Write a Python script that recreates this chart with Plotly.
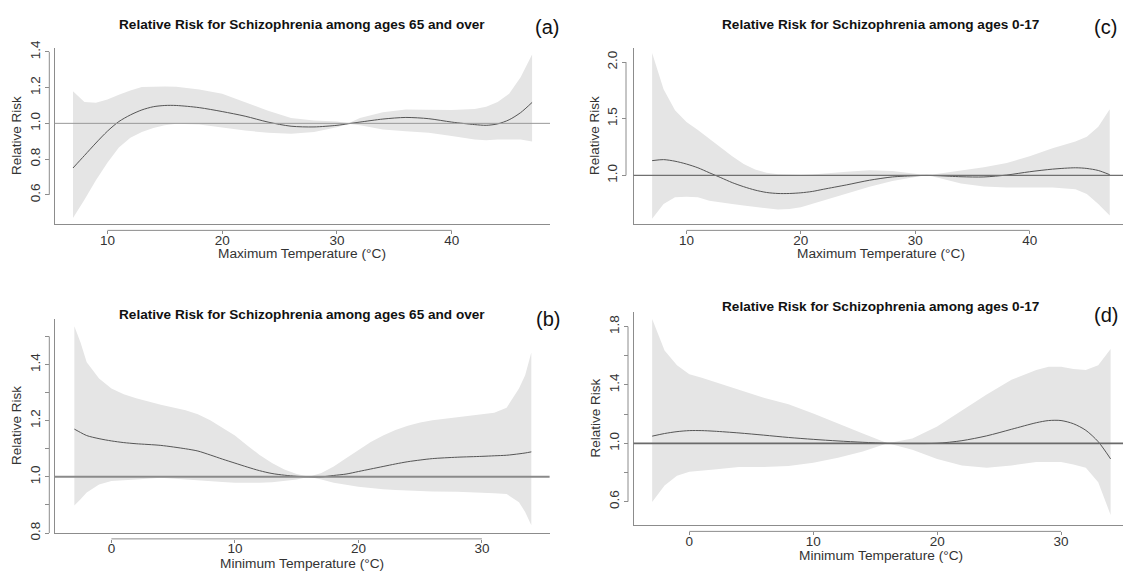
import plotly.graph_objects as go

W, H = 1123, 579
REF = 1.0

# ---------------- data ----------------
# (a) Max temperature, ages 65+
a_x = [7, 8, 9, 10, 11, 12, 13, 14, 15, 16, 18, 20, 22, 24, 26, 28, 30, 31, 32, 34, 36, 38, 40, 42, 43, 44, 45, 46, 47]
a_est = [0.75, 0.82, 0.89, 0.956, 1.01, 1.047, 1.075, 1.093, 1.10, 1.10, 1.088, 1.066, 1.04, 1.007, 0.984, 0.98, 0.989, 0.998, 1.007, 1.024, 1.033, 1.026, 1.007, 0.993, 0.989, 0.997, 1.02, 1.06, 1.117]
a_hi = [1.18, 1.12, 1.115, 1.133, 1.16, 1.184, 1.203, 1.206, 1.206, 1.205, 1.19, 1.166, 1.12, 1.07, 1.03, 1.016, 1.01, 1.0, 1.03, 1.062, 1.078, 1.077, 1.075, 1.08, 1.093, 1.12, 1.166, 1.258, 1.385]
a_lo = [0.47, 0.573, 0.682, 0.78, 0.865, 0.92, 0.951, 0.974, 0.99, 0.998, 0.993, 0.978, 0.96, 0.947, 0.942, 0.951, 0.978, 0.998, 0.989, 0.965, 0.956, 0.947, 0.929, 0.91, 0.905, 0.91, 0.91, 0.909, 0.898]

# (b) Min temperature, ages 65+
b_x = [-3, -2.5, -2, -1, 0, 1, 2, 4, 6, 7, 8, 9, 10, 11, 12, 13, 14, 15, 16, 17, 18, 19, 20, 21, 22, 23, 24, 25, 26, 28, 30, 31, 32, 33, 33.5, 34]
b_est = [1.17, 1.158, 1.147, 1.136, 1.128, 1.122, 1.118, 1.112, 1.10, 1.092, 1.078, 1.063, 1.049, 1.035, 1.022, 1.012, 1.006, 1.002, 1.0, 1.0, 1.005, 1.01, 1.019, 1.028, 1.037, 1.046, 1.054, 1.06, 1.065, 1.07, 1.073, 1.075, 1.077, 1.082, 1.085, 1.089]
b_hi = [1.536, 1.478, 1.408, 1.35, 1.315, 1.294, 1.28, 1.257, 1.237, 1.223, 1.202, 1.176, 1.147, 1.112, 1.078, 1.049, 1.026, 1.01, 1.0, 1.014, 1.037, 1.066, 1.095, 1.124, 1.147, 1.167, 1.182, 1.194, 1.202, 1.213, 1.223, 1.228, 1.246, 1.315, 1.362, 1.443]
b_lo = [0.898, 0.92, 0.944, 0.973, 0.985, 0.988, 0.991, 0.997, 0.993, 0.989, 0.985, 0.982, 0.979, 0.979, 0.979, 0.981, 0.985, 0.991, 1.0, 0.991, 0.979, 0.972, 0.965, 0.96, 0.956, 0.953, 0.95, 0.949, 0.948, 0.947, 0.944, 0.942, 0.939, 0.91, 0.875, 0.828]

# (c) Max temperature, ages 0-17
c_x = [7, 8, 9, 10, 11, 12, 13, 14, 15, 16, 17, 18, 19, 20, 21, 22, 24, 26, 28, 30, 31, 32, 34, 36, 38, 40, 42, 44, 45, 46, 47]
c_est = [1.13, 1.139, 1.125, 1.10, 1.067, 1.023, 0.98, 0.936, 0.90, 0.87, 0.849, 0.84, 0.84, 0.846, 0.858, 0.878, 0.916, 0.957, 0.986, 0.997, 1.0, 0.997, 0.988, 0.986, 1.003, 1.032, 1.055, 1.067, 1.061, 1.043, 1.006]
c_hi = [2.08, 1.76, 1.574, 1.472, 1.40, 1.327, 1.246, 1.168, 1.101, 1.052, 1.023, 1.009, 1.005, 1.003, 1.008, 1.014, 1.032, 1.046, 1.038, 1.014, 1.0, 1.014, 1.043, 1.072, 1.11, 1.168, 1.24, 1.30, 1.342, 1.43, 1.583]
c_lo = [0.617, 0.748, 0.806, 0.812, 0.806, 0.777, 0.76, 0.748, 0.735, 0.725, 0.71, 0.699, 0.703, 0.719, 0.745, 0.777, 0.84, 0.90, 0.951, 0.986, 1.0, 0.98, 0.928, 0.901, 0.893, 0.893, 0.893, 0.878, 0.835, 0.748, 0.646]

# (d) Min temperature, ages 0-17
d_x = [-3, -2, -1, 0, 1, 2, 4, 6, 8, 10, 12, 14, 16, 18, 20, 22, 24, 26, 28, 29, 30, 31, 32, 33, 34]
d_est = [1.049, 1.067, 1.08, 1.087, 1.087, 1.083, 1.071, 1.056, 1.04, 1.027, 1.016, 1.007, 1.0, 0.998, 1.0, 1.018, 1.051, 1.096, 1.141, 1.156, 1.156, 1.134, 1.089, 1.011, 0.893]
d_hi = [1.853, 1.636, 1.536, 1.473, 1.45, 1.424, 1.368, 1.313, 1.268, 1.205, 1.134, 1.067, 1.0, 1.033, 1.116, 1.223, 1.335, 1.435, 1.502, 1.525, 1.525, 1.509, 1.502, 1.536, 1.647]
d_lo = [0.598, 0.71, 0.777, 0.804, 0.813, 0.821, 0.837, 0.837, 0.844, 0.866, 0.90, 0.944, 1.0, 0.955, 0.893, 0.848, 0.833, 0.848, 0.871, 0.872, 0.871, 0.855, 0.833, 0.732, 0.509]

title_old = "Relative Risk for Schizophrenia among ages 65 and over"
title_young = "Relative Risk for Schizophrenia among ages 0-17"
xlab_max = "Maximum Temperature (°C)"
xlab_min = "Minimum Temperature (°C)"
ylab = "Relative Risk"

xt_max = [10, 20, 30, 40]
xt_min = [0, 10, 20, 30]
yt_a = [0.6, 0.8, 1.0, 1.2, 1.4]
yl_a = ["0.6", "0.8", "1.0", "1.2", "1.4"]
yt_b = [0.8, 0.9, 1.0, 1.1, 1.2, 1.3, 1.4, 1.5]
yl_b = ["0.8", "", "1.0", "", "1.2", "", "1.4", ""]
yt_c = [1.0, 1.5, 2.0]
yl_c = ["1.0", "1.5", "2.0"]
yt_d = [0.6, 0.8, 1.0, 1.2, 1.4, 1.6, 1.8]
yl_d = ["0.6", "", "1.0", "", "1.4", "", "1.8"]

# ---------------- layout geometry (page pixels) ----------------
panels = [
    dict(key="a", x=a_x, est=a_est, hi=a_hi, lo=a_lo, title=title_old, xlab=xlab_max,
         xt=xt_max, yt=yt_a, yl=yl_a, xr=[5.4, 48.56], yr=[0.437, 1.422],
         box=(54.6, 550, 41.0, 221.7), yax_px=49.3, xax_py=228.3,
         title_py=16.7, lab_px=547, lab_py=19, xlab_py=252, ylab_px=17, tcx=302.3,
         refc="#999999", refw=1.0),
    dict(key="b", x=b_x, est=b_est, hi=b_hi, lo=b_lo, title=title_old, xlab=xlab_min,
         xt=xt_min, yt=yt_b, yl=yl_b, xr=[-4.6, 35.48], yr=[0.80, 1.563],
         box=(54.6, 549.6, 319, 539), yax_px=49.3, xax_py=545,
         title_py=315, lab_px=548, lab_py=319, xlab_py=570, ylab_px=17, tcx=302.3,
         refc="#8a8a8a", refw=2.0),
    dict(key="c", x=c_x, est=c_est, hi=c_hi, lo=c_lo, title=title_young, xlab=xlab_max,
         xt=xt_max, yt=yt_c, yl=yl_c, xr=[5.38, 48.16], yr=[0.571, 2.125],
         box=(633.6, 1123, 41.0, 221.7), yax_px=626, xax_py=228.3,
         title_py=16.7, lab_px=1105, lab_py=19, xlab_py=252, ylab_px=595, tcx=880.6,
         refc="#707070", refw=1.3),
    dict(key="d", x=d_x, est=d_est, hi=d_hi, lo=d_lo, title=title_young, xlab=xlab_min,
         xt=xt_min, yt=yt_d, yl=yl_d, xr=[-4.5, 35.0], yr=[0.438, 1.903],
         box=(633.6, 1123, 311.7, 531), yax_px=628, xax_py=537.3,
         title_py=306, lab_px=1106, lab_py=315, xlab_py=561.7, ylab_px=595, tcx=880.6,
         refc="#6a6a6a", refw=1.8),
]

FONT = "Liberation Sans, Arial, sans-serif"
BAND = "#e5e5e5"
LINE = "#555555"
AXC = "#8c8c8c"
TXT = "#333333"
FS = 13.5

fig = go.Figure()
layout = dict(width=W, height=H, margin=dict(l=0, r=0, t=0, b=0),
              paper_bgcolor="white", plot_bgcolor="white", showlegend=False,
              font=dict(family=FONT, size=FS, color=TXT))
shapes, annotations = [], []


def px2x(p):
    return p / W


def py2y(p):
    return 1 - p / H


for i, p in enumerate(panels):
    n = i + 1
    tn = i + 5
    xa = "x" if n == 1 else f"x{n}"
    ya = "y" if n == 1 else f"y{n}"
    xk = "xaxis" if n == 1 else f"xaxis{n}"
    yk = "yaxis" if n == 1 else f"yaxis{n}"
    l, r, t, b = p["box"]
    xdom = [px2x(l), min(1.0, px2x(r))]
    ydom = [py2y(b), py2y(t)]

    # confidence band
    fig.add_trace(go.Scatter(x=p["x"] + p["x"][::-1], y=p["hi"] + p["lo"][::-1],
                             fill="toself", fillcolor=BAND, line=dict(width=0),
                             mode="lines", hoverinfo="skip", xaxis=xa, yaxis=ya))
    # estimate
    fig.add_trace(go.Scatter(x=p["x"], y=p["est"], mode="lines",
                             line=dict(color=LINE, width=1, shape="spline", smoothing=0.8),
                             xaxis=xa, yaxis=ya))
    # invisible trace carrying the R-style offset tick axes
    fig.add_trace(go.Scatter(x=p["x"], y=p["est"], mode="lines", opacity=0,
                             line=dict(width=0), hoverinfo="skip",
                             xaxis=f"x{tn}", yaxis=f"y{tn}"))

    layout[xk] = dict(domain=xdom, range=p["xr"], anchor=ya, showline=True, linecolor=AXC,
                      linewidth=1.3, ticks="", showticklabels=False, showgrid=False, zeroline=False)
    layout[yk] = dict(domain=ydom, range=p["yr"], anchor=xa, showline=True, linecolor=AXC,
                      linewidth=1.3, ticks="", showticklabels=False, showgrid=False, zeroline=False)
    layout[f"xaxis{tn}"] = dict(overlaying=xa, anchor="free", position=py2y(p["xax_py"]),
                               range=p["xr"], side="bottom", showline=False, ticks="outside",
                               ticklen=3, tickcolor=AXC, tickwidth=1, tickvals=p["xt"],
                               ticktext=[str(v) for v in p["xt"]], showgrid=False, zeroline=False,
                               ticklabelstandoff=-6, tickfont=dict(size=FS, color=TXT))
    layout[f"yaxis{tn}"] = dict(overlaying=ya, anchor="free", position=px2x(p["yax_px"]),
                               range=p["yr"], side="left", showline=False, ticks="outside",
                               ticklen=4, tickcolor=AXC, tickwidth=1, tickvals=p["yt"],
                               ticktext=p["yl"], tickangle=-90, showgrid=False, zeroline=False,
                               tickfont=dict(size=FS, color=TXT))
    # axis line segments (R style, first to last tick)
    shapes.append(dict(type="line", xref="paper", yref=ya, x0=px2x(p["yax_px"]), x1=px2x(p["yax_px"]),
                       y0=p["yt"][0], y1=p["yt"][-1], line=dict(color=AXC, width=1)))
    shapes.append(dict(type="line", xref=xa, yref="paper", x0=p["xt"][0], x1=p["xt"][-1],
                       y0=py2y(p["xax_py"]), y1=py2y(p["xax_py"]), line=dict(color=AXC, width=1)))
    # reference line at RR = 1
    shapes.append(dict(type="line", xref=f"{xa} domain", yref=ya, x0=0, x1=1, y0=REF, y1=REF,
                       line=dict(color=p["refc"], width=p["refw"])))

    annotations.append(dict(text=f"<b>{p['title']}</b>", xref="paper", yref="paper",
                            x=px2x(p["tcx"]), y=py2y(p["title_py"]),
                            xanchor="center", yanchor="middle", showarrow=False,
                            font=dict(size=13.6, color="#111111")))
    annotations.append(dict(text=f"({p['key']})", xref="paper", yref="paper",
                            x=px2x(p["lab_px"]), y=py2y(p["lab_py"]), xanchor="center", yanchor="middle",
                            showarrow=False, font=dict(size=20, color="#111111")))
    annotations.append(dict(text=p["xlab"], xref="paper", yref="paper",
                            x=px2x(p["tcx"]), y=py2y(p["xlab_py"]),
                            xanchor="center", yanchor="middle", showarrow=False,
                            font=dict(size=13.7, color=TXT)))
    annotations.append(dict(text=ylab, xref="paper", yref="paper", textangle=-90,
                            x=px2x(p["ylab_px"]), y=(ydom[0] + ydom[1]) / 2,
                            xanchor="center", yanchor="middle", showarrow=False,
                            font=dict(size=FS, color=TXT)))

layout["shapes"] = shapes
layout["annotations"] = annotations
fig.update_layout(**layout)
fig.write_html("out.html", config={"displayModeBar": False},
               post_script="document.body.style.margin='0px';")
